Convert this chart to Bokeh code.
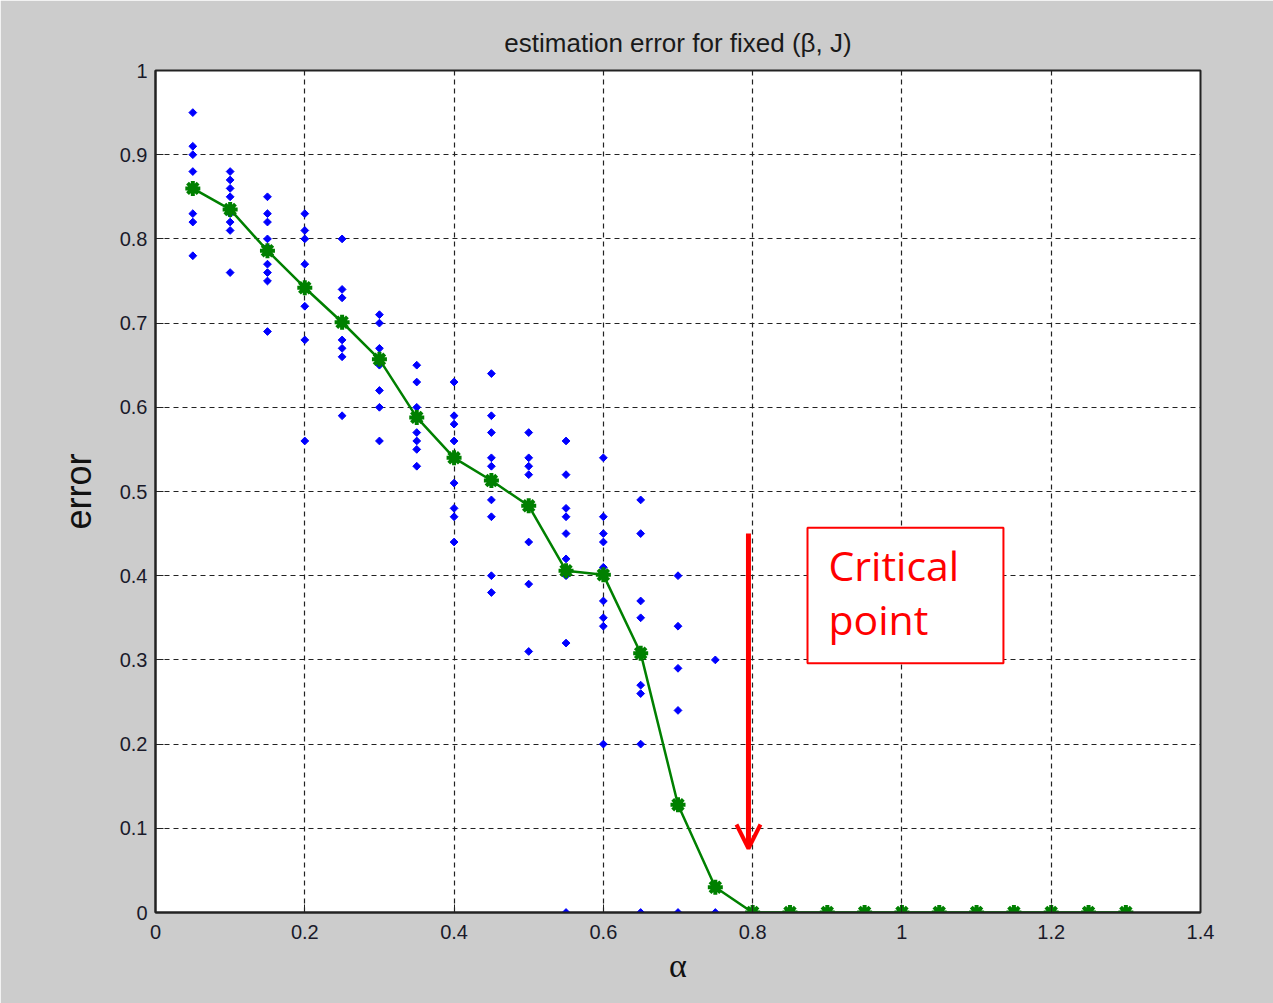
import math
from bokeh.plotting import figure
from bokeh.models import FixedTicker, Arrow, OpenHead, Label, BoxAnnotation
from bokeh.embed import file_html
from bokeh.resources import INLINE

# ---------------- data ----------------
trial_alpha = [0.05, 0.10, 0.15, 0.20, 0.25, 0.30, 0.35, 0.40,
               0.45, 0.50, 0.55, 0.60, 0.65, 0.70, 0.75]
trial_errors = [
    [0.95, 0.91, 0.90, 0.88, 0.83, 0.82, 0.78],
    [0.88, 0.87, 0.86, 0.85, 0.83, 0.82, 0.81, 0.76],
    [0.85, 0.83, 0.82, 0.80, 0.79, 0.77, 0.76, 0.75, 0.69],
    [0.83, 0.81, 0.80, 0.77, 0.72, 0.68, 0.56],
    [0.80, 0.74, 0.73, 0.70, 0.68, 0.67, 0.66, 0.59],
    [0.71, 0.70, 0.67, 0.65, 0.62, 0.60, 0.56],
    [0.65, 0.63, 0.60, 0.59, 0.57, 0.56, 0.55, 0.53],
    [0.63, 0.59, 0.58, 0.56, 0.54, 0.51, 0.48, 0.47, 0.44],
    [0.64, 0.59, 0.57, 0.54, 0.53, 0.51, 0.49, 0.47, 0.40, 0.38],
    [0.57, 0.54, 0.53, 0.52, 0.48, 0.44, 0.39, 0.31],
    [0.56, 0.52, 0.48, 0.47, 0.45, 0.42, 0.40, 0.32, 0.0],
    [0.54, 0.47, 0.45, 0.44, 0.41, 0.40, 0.37, 0.35, 0.34, 0.20],
    [0.49, 0.45, 0.37, 0.35, 0.31, 0.27, 0.26, 0.20, 0.0],
    [0.40, 0.34, 0.29, 0.24, 0.13, 0.0],
    [0.30, 0.03, 0.0],
]

mean_alpha = [0.05, 0.10, 0.15, 0.20, 0.25, 0.30, 0.35, 0.40, 0.45,
              0.50, 0.55, 0.60, 0.65, 0.70, 0.75, 0.80, 0.85, 0.90,
              0.95, 1.00, 1.05, 1.10, 1.15, 1.20, 1.25, 1.30]
mean_error = [0.860, 0.835, 0.786, 0.742, 0.701, 0.657, 0.588, 0.540,
              0.513, 0.483, 0.406, 0.401, 0.308, 0.128, 0.030, 0.0,
              0.0, 0.0, 0.0, 0.0, 0.0, 0.0, 0.0, 0.0, 0.0, 0.0]

x_ticks = [0, 0.2, 0.4, 0.6, 0.8, 1.0, 1.2, 1.4]
x_tick_labels = ["0", "0.2", "0.4", "0.6", "0.8", "1", "1.2", "1.4"]
y_ticks = [0, 0.1, 0.2, 0.3, 0.4, 0.5, 0.6, 0.7, 0.8, 0.9, 1.0]
y_tick_labels = ["0", "0.1", "0.2", "0.3", "0.4", "0.5", "0.6", "0.7",
                 "0.8", "0.9", "1"]

# ---------------- figure ----------------
p = figure(width=1273, height=1003, x_range=(0, 1.4), y_range=(0, 1),
           output_backend="svg", toolbar_location=None,
           min_border_left=155, min_border_right=73,
           min_border_top=70, min_border_bottom=91)
p.border_fill_color = "#cccccc"
p.background_fill_color = "white"
p.outline_line_color = "#222222"
p.outline_line_width = 2

p.title.text = "estimation error for fixed (\u03b2, J)"
p.title.align = "center"
p.title.text_font = "Liberation Sans"
p.title.text_font_size = "26px"
p.title.text_font_style = "normal"
p.title.text_color = "#1a1a1a"
p.title.standoff = 26

for ax in (p.xaxis[0], p.yaxis[0]):
    ax.axis_line_color = "#222222"
    ax.axis_line_width = 2
    ax.major_tick_in = 8
    ax.major_tick_out = 0
    ax.major_tick_line_color = "#222222"
    ax.minor_tick_line_color = None
    ax.major_label_text_font = "Liberation Sans"
    ax.major_label_text_font_size = "20px"
    ax.major_label_text_color = "#1a1a2a"
    ax.axis_label_text_font_style = "normal"
    ax.axis_label_text_color = "#111111"

p.xaxis.ticker = FixedTicker(ticks=x_ticks)
p.xaxis.major_label_overrides = dict(zip(x_ticks, x_tick_labels))
p.yaxis.ticker = FixedTicker(ticks=y_ticks)
p.yaxis.major_label_overrides = dict(zip(y_ticks, y_tick_labels))
p.xaxis.major_label_standoff = 12
p.yaxis.major_label_standoff = 8

p.xaxis.axis_label = "\u03b1"
p.xaxis.axis_label_text_font = "Liberation Serif"
p.xaxis.axis_label_text_font_size = "34px"
p.xaxis.axis_label_standoff = 5
p.yaxis.axis_label = "error"
p.yaxis.axis_label_text_font = "Liberation Sans"
p.yaxis.axis_label_text_font_size = "36px"
p.yaxis.axis_label_standoff = 18

p.grid.grid_line_color = "#222222"
p.grid.grid_line_dash = "5 4"
p.grid.grid_line_width = 1.2

# scatter of individual trials
sx, sy = [], []
for a, errs in zip(trial_alpha, trial_errors):
    for e in errs:
        sx.append(a)
        sy.append(e)
p.scatter(sx, sy, marker="square", size=5.5, angle=math.pi / 4,
          fill_color="#0000ff", line_color="#0000ff", line_width=1)

# mean curve
p.line(mean_alpha, mean_error, line_color="#008000", line_width=2.5)
p.scatter(mean_alpha, mean_error, marker="asterisk", size=15,
          line_color="#008000", line_width=4)
p.scatter(mean_alpha, mean_error, marker="circle", size=7,
          fill_color="#008000", line_color="#008000")

# annotation: box + text + arrow
box = BoxAnnotation(left=0.8735, right=1.136, bottom=0.296, top=0.457,
                    fill_color="white", fill_alpha=1.0,
                    line_color="#ff0000", line_alpha=1.0, line_width=2)
p.add_layout(box)
p.add_layout(Label(x=0.9016, y=0.4130, text="Critical",
                   text_font="Open Sans", text_font_size="41px",
                   text_color="#ff0000", text_baseline="alphabetic"))
p.add_layout(Label(x=0.9016, y=0.3480, text="point",
                   text_font="Open Sans", text_font_size="41px",
                   text_color="#ff0000", text_baseline="alphabetic"))
p.add_layout(Arrow(end=OpenHead(size=24, line_color="#ff0000", line_width=4),
                   x_start=0.7944, y_start=0.450, x_end=0.7944, y_end=0.076,
                   line_color="#ff0000", line_width=5))

open("out.html", "w").write(file_html(p, INLINE))
